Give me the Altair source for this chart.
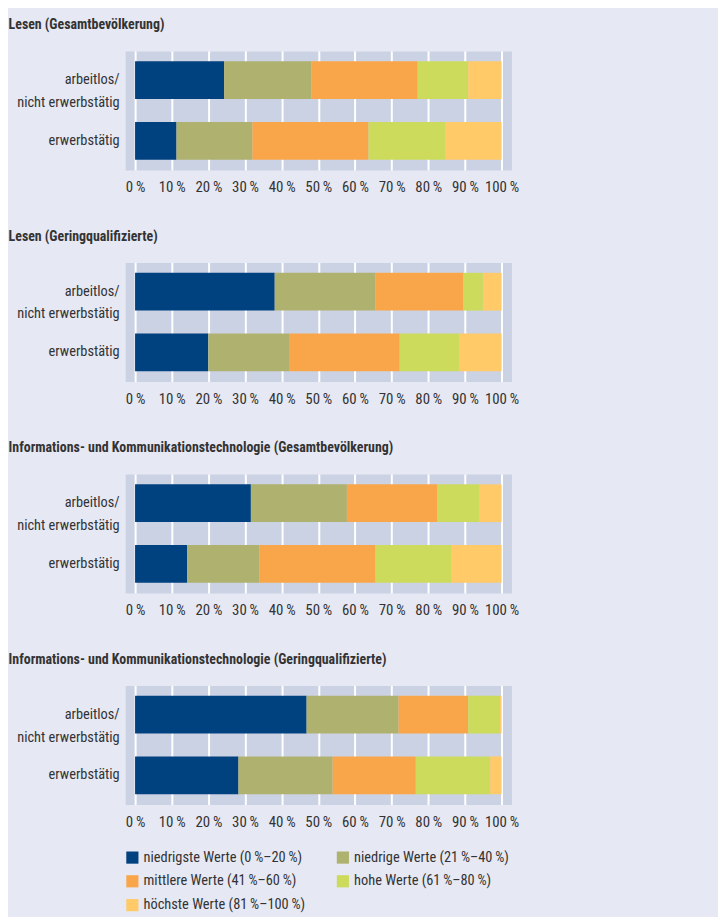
import altair as alt
import pandas as pd

panel_titles = [
    "Lesen (Gesamtbevölkerung)",
    "Lesen (Geringqualifizierte)",
    "Informations- und Kommunikationstechnologie (Gesamtbevölkerung)",
    "Informations- und Kommunikationstechnologie (Geringqualifizierte)",
]
rows = ["arbeitlos/ nicht erwerbstätig", "erwerbstätig"]
levels = [
    "niedrigste Werte (0\u2009%–20\u2009%)",
    "niedrige Werte (21\u2009%–40\u2009%)",
    "mittlere Werte (41\u2009%–60\u2009%)",
    "hohe Werte (61\u2009%–80\u2009%)",
    "höchste Werte (81\u2009%–100\u2009%)",
]
colors = ["#00417F", "#AFB16F", "#F9A64A", "#CCDB5C", "#FFCA67"]

# values per panel: [arbeitlos/nicht erwerbstätig, erwerbstätig]
lesen_gesamt = [[24.3, 23.8, 29.0, 13.8, 9.1], [11.3, 20.7, 31.7, 21.0, 15.3]]
lesen_gering = [[38.1, 27.5, 23.9, 5.4, 5.1], [20.0, 22.2, 30.0, 16.3, 11.5]]
ikt_gesamt = [[31.6, 26.2, 24.7, 11.4, 6.1], [14.2, 19.7, 31.7, 20.7, 13.7]]
ikt_gering = [[46.8, 25.1, 19.0, 8.7, 0.4], [28.2, 25.7, 22.7, 20.3, 3.1]]
panel_values = [lesen_gesamt, lesen_gering, ikt_gesamt, ikt_gering]

x_ticks = [0, 10, 20, 30, 40, 50, 60, 70, 80, 90, 100]

FONT = "'Roboto Condensed', 'DejaVu Sans Condensed', sans-serif"
TXT = "#333333"


def make_panel(title, vals):
    recs = []
    for r, row in enumerate(rows):
        for k, lev in enumerate(levels):
            recs.append({"row": row, "level": lev, "order": k, "value": vals[r][k]})
    df = pd.DataFrame(recs)
    return (
        alt.Chart(df, title=alt.TitleParams(
            text=title, anchor="start", frame="bounds", fontSize=14,
            fontWeight="bold", font=FONT, color=TXT, dx=-8, offset=19))
        .mark_bar()
        .encode(
            x=alt.X("value:Q", stack="zero",
                    scale=alt.Scale(domain=[-2.7, 102.7], nice=False, zero=False),
                    axis=alt.Axis(values=x_ticks, title=None, labelOverlap=False,
                                  labelExpr="datum.value + '\u2009%'",
                                  labelFontSize=15, labelPadding=10)),
            y=alt.Y("row:N", sort=rows, title=None,
                    scale=alt.Scale(paddingInner=0.377, paddingOuter=0.172),
                    axis=alt.Axis(grid=False, labelPadding=6, labelFontSize=14.5,
                                  labelExpr="datum.value == 'arbeitlos/ nicht erwerbstätig' ? ['arbeitlos/', 'nicht erwerbstätig'] : datum.value",
                                  labelLineHeight=23)),
            color=alt.Color("level:N", sort=levels,
                            scale=alt.Scale(domain=levels, range=colors),
                            legend=alt.Legend(orient="none", legendX=0, legendY=805,
                                              direction="horizontal",
                                              columns=2, title=None, symbolType="square",
                                              symbolSize=150, symbolStrokeWidth=0,
                                              labelFontSize=14.5, labelFont=FONT,
                                              labelColor=TXT, rowPadding=9,
                                              columnPadding=30, labelLimit=300)),
            order=alt.Order("order:Q"),
        )
        .properties(width=389, height=120)
    )


panels = [make_panel(t, v) for t, v in zip(panel_titles, panel_values)]

chart = (
    alt.vconcat(*panels, spacing=33)
    .properties(background="#E6E8F4",
                padding={"left": 0, "top": 6, "right": 200, "bottom": 2})
    .configure_view(fill="#CBD2E4", stroke="transparent")
    .configure_axis(domain=False, ticks=False, gridColor="#FFFFFF", gridWidth=2,
                    labelFont=FONT, labelColor=TXT)
)

chart.save("out.html", embed_options={"renderer": "svg", "actions": False})
